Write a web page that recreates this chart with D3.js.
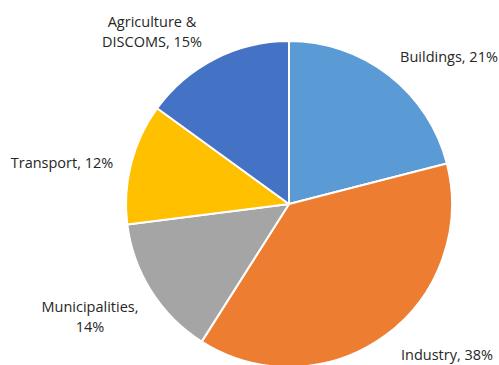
<!DOCTYPE html>
<html>
<head>
<meta charset="utf-8">
<script src="https://cdn.jsdelivr.net/npm/d3@7"></script>
<style>
  html, body { margin: 0; padding: 0; background: #fff; }
  svg { display: block; }
  text { font-family: "Open Sans", "Noto Sans", sans-serif; font-size: 14.5px; fill: #262626; }
</style>
</head>
<body>
<svg id="chart" width="499" height="365"></svg>
<script>
// Share of demand by sector (%)
const categories = ["Buildings", "Industry", "Municipalities", "Transport", "Agriculture & DISCOMS"];
const values = [21, 38, 14, 12, 15];
const colors = ["#5B9BD5", "#ED7D31", "#A5A5A5", "#FFC000", "#4472C4"];

// Label lines as drawn beside each slice
const labelLines = [
  ["Buildings, 21%"],
  ["Industry, 38%"],
  ["Municipalities,", "14%"],
  ["Transport, 12%"],
  ["Agriculture &", "DISCOMS, 15%"]
];
// Label anchor points (center of the text block, first baseline)
const labelAnchors = [
  [449, 62], [447, 360], [90, 312], [62, 168], [152, 27]
];

const svg = d3.select("#chart");
const cx = 289, cy = 204, r = 163;

const pie = d3.pie().sort(null).value(d => d.value);
const arc = d3.arc().innerRadius(0).outerRadius(r);

const data = categories.map((c, i) => ({ name: c, value: values[i], color: colors[i] }));

const g = svg.append("g").attr("transform", `translate(${cx},${cy})`);
g.selectAll("path")
  .data(pie(data))
  .join("path")
  .attr("d", arc)
  .attr("fill", d => d.data.color)
  .attr("stroke", "#fff")
  .attr("stroke-width", 2)
  .attr("stroke-linejoin", "round");

const labels = svg.append("g");
labelLines.forEach((lines, i) => {
  const t = labels.append("text")
    .attr("x", labelAnchors[i][0])
    .attr("y", labelAnchors[i][1])
    .attr("text-anchor", "middle");
  lines.forEach((line, j) => {
    t.append("tspan")
      .attr("x", labelAnchors[i][0])
      .attr("dy", j === 0 ? 0 : 20)
      .text(line);
  });
});
</script>
</body>
</html>
